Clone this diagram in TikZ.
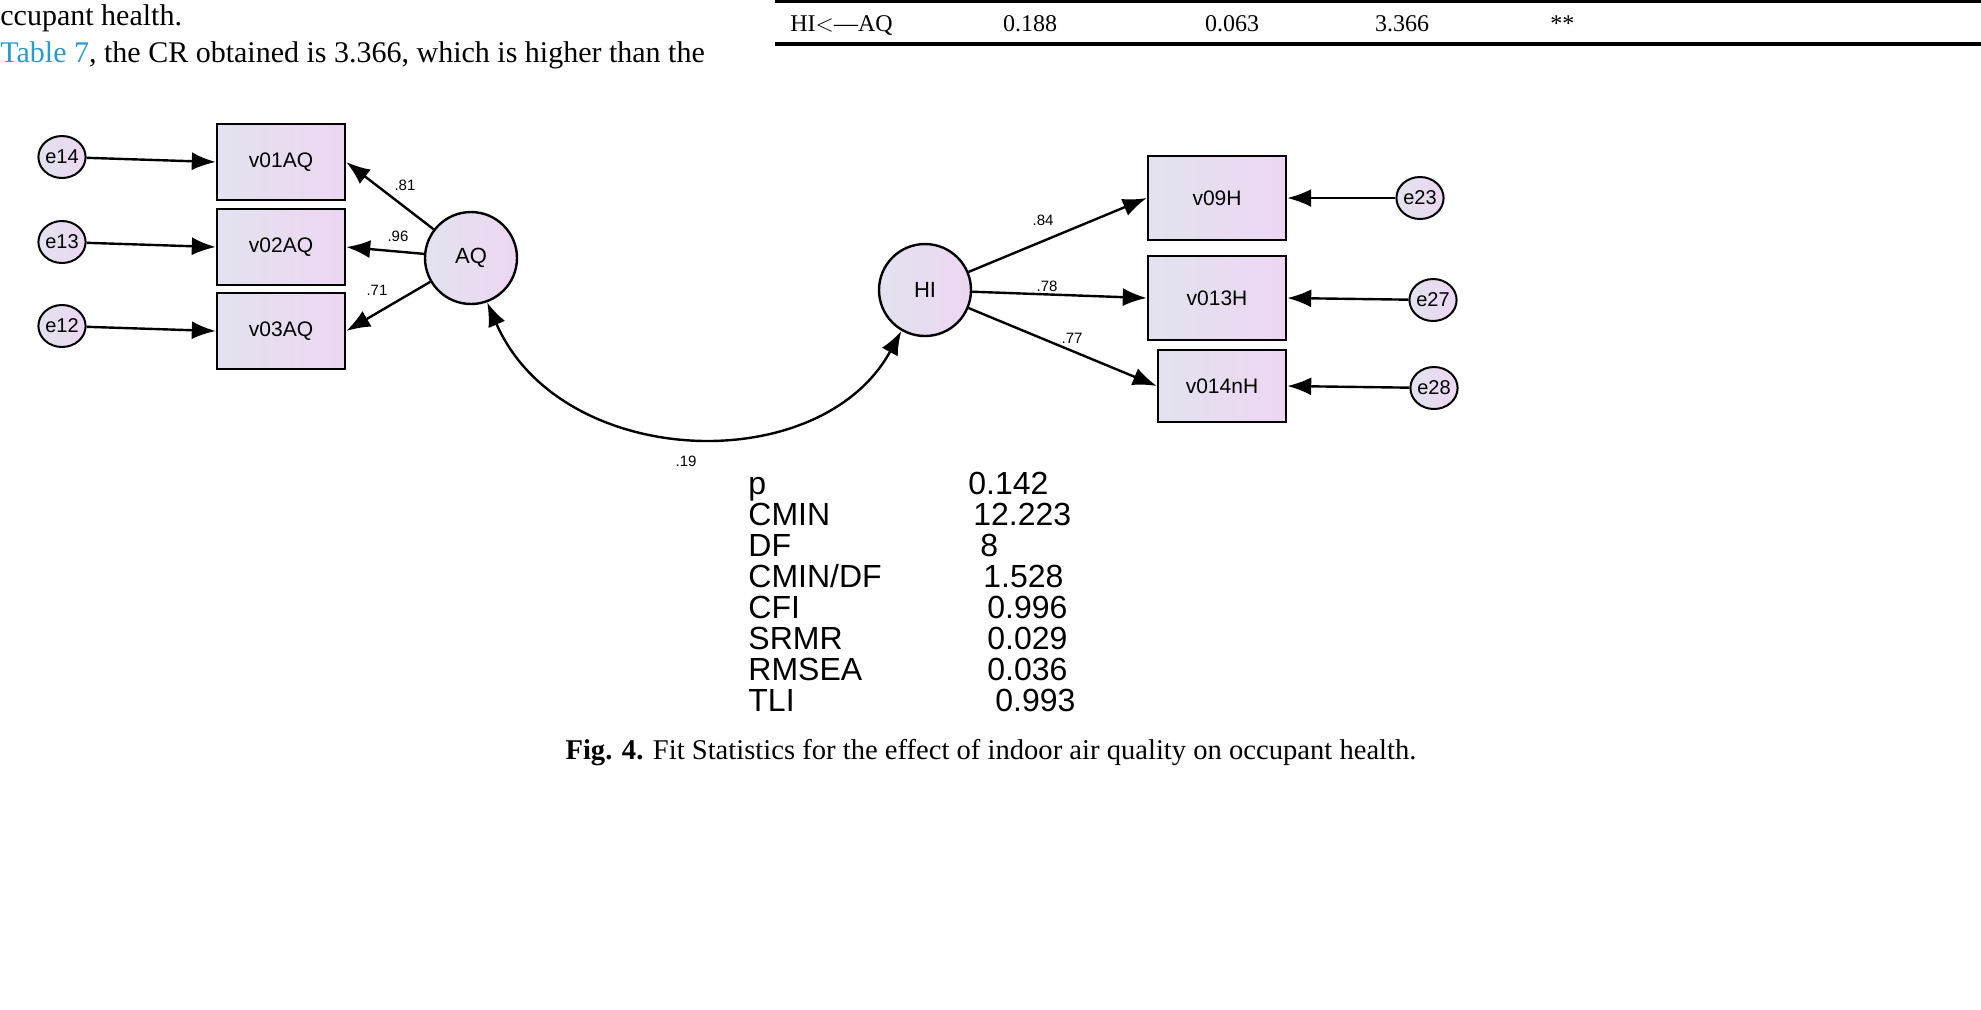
\documentclass[tikz,border=0pt]{standalone}
\usepackage{fontspec}
\setmainfont{Liberation Serif}
\newfontfamily\arial{Liberation Sans}
\usetikzlibrary{arrows.meta,shapes.geometric}
\definecolor{linkblue}{HTML}{2A9AD0}
\definecolor{gl}{HTML}{E2E3EE}
\definecolor{gr}{HTML}{EDD6F2}
\tikzset{
  obs/.style={draw=black,line width=1.2pt,rectangle,minimum width=64pt,minimum height=38pt,left color=gl,right color=gr,font=\arial\fontsize{10.5}{12}\selectfont,inner sep=0pt},
  err/.style={draw=black,line width=1pt,ellipse,minimum width=22pt,minimum height=21pt,inner sep=0pt,left color=gl,right color=gr,font=\arial\fontsize{10}{12}\selectfont},
  lat/.style={draw=black,line width=1.2pt,ellipse,minimum width=46pt,minimum height=46pt,inner sep=0pt,left color=gl,right color=gr,font=\arial\fontsize{11}{12}\selectfont},
  arr/.style={line width=1.2pt,-{Latex[length=12pt,width=9pt]}},
  lab/.style={font=\arial\fontsize{7.5}{9}\selectfont,inner sep=0pt},
  stat/.style={font=\arial\fontsize{16}{18}\selectfont,anchor=base west,inner sep=0pt},
  txt/.style={font=\fontsize{15}{17}\selectfont,anchor=base west,inner sep=0pt},
  tab/.style={font=\fontsize{12}{14}\selectfont,anchor=base west,inner sep=0pt},
}
\begin{document}
\begin{tikzpicture}[x=0.5pt,y=-0.5pt]
\useasboundingbox (0,0) rectangle (1981,1009);
% top text
\node[txt] (t1) at (0,25) {ccupant health.};
\node[txt] (t2) at (0,62) {\textcolor{linkblue}{Table 7}, the CR obtained is 3.366, which is higher than the};
\draw[line width=1.6pt] (775,1.5) coordinate (r1a) -- (1981,1.5) coordinate (r1b);
\draw[line width=1.6pt] (775,44) coordinate (r2a) -- (1981,44) coordinate (r2b);
\node[tab] (h1) at (790,31) {HI$<$---AQ};
\node[tab,anchor=base] (h2) at (1030,31) {0.188};
\node[tab,anchor=base] (h3) at (1232,31) {0.063};
\node[tab,anchor=base] (h4) at (1402,31) {3.366};
\node[tab] (h5) at (1550,31) {**};
% nodes
\node[err] (e14) at (62,157) {e14};
\node[err] (e13) at (62,242) {e13};
\node[err] (e12) at (62,326) {e12};
\node[obs] (v1) at (281,162) {v01AQ};
\node[obs] (v2) at (281,247) {v02AQ};
\node[obs] (v3) at (281,331) {v03AQ};
\node[lat] (AQ) at (471,258) {AQ};
\node[lat] (HI) at (925,290) {HI};
\node[obs,minimum width=69pt,minimum height=42pt] (v9) at (1217,198) {v09H};
\node[obs,minimum width=69pt,minimum height=42pt] (v13) at (1217,298) {v013H};
\node[obs,minimum width=64pt,minimum height=36pt] (v14) at (1222,386) {v014nH};
\node[err] (e23) at (1420,198) {e23};
\node[err] (e27) at (1433,300) {e27};
\node[err] (e28) at (1434,388) {e28};
% arrows
\draw[arr] (e14) -- (v1.west);
\draw[arr] (e13) -- (v2.west);
\draw[arr] (e12) -- (v3.west);
\draw[arr] (AQ) -- (v1.east);
\draw[arr] (AQ) -- (v2.east);
\draw[arr] (AQ) -- (v3.east);
\draw[arr] (HI) -- (v9.west);
\draw[arr] (HI) -- (v13.west);
\draw[arr] (HI) -- (v14.west);
\draw[arr] (e23) -- (v9.east);
\draw[arr] (e27) -- (v13.east);
\draw[arr] (e28) -- (v14.east);
\draw[line width=1.2pt,{Latex[length=12pt,width=9pt]}-{Latex[length=12pt,width=9pt]}] (AQ.-70) .. controls (560,470) and (820,480) .. (HI.-120);
% labels
\node[lab] (l1) at (405,185) {.81};
\node[lab] (l2) at (398,236) {.96};
\node[lab] (l3) at (377,290) {.71};
\node[lab] (l4) at (1043,220) {.84};
\node[lab] (l5) at (1047,286) {.78};
\node[lab] (l6) at (1072,338) {.77};
\node[lab] (l7) at (686,461) {.19};
% stats
\foreach \n/\v/\x [count=\i from 0] in {p/0.142/968,CMIN/12.223/973,DF/8/980,{CMIN{/}DF}/1.528/983,CFI/0.996/987,SRMR/0.029/987,RMSEA/0.036/987,TLI/0.993/995}{
  \node[stat] (sn\i) at (748,{494+31*\i}) {\n};
  \node[stat] (sv\i) at (\x,{494+31*\i}) {\v};
}
\node[txt,font=\fontsize{14.3}{16}\selectfont,anchor=base] (cap) at (991,759) {\textbf{Fig. 4.} Fit Statistics for the effect of indoor air quality on occupant health.};
\end{tikzpicture}
\end{document}
